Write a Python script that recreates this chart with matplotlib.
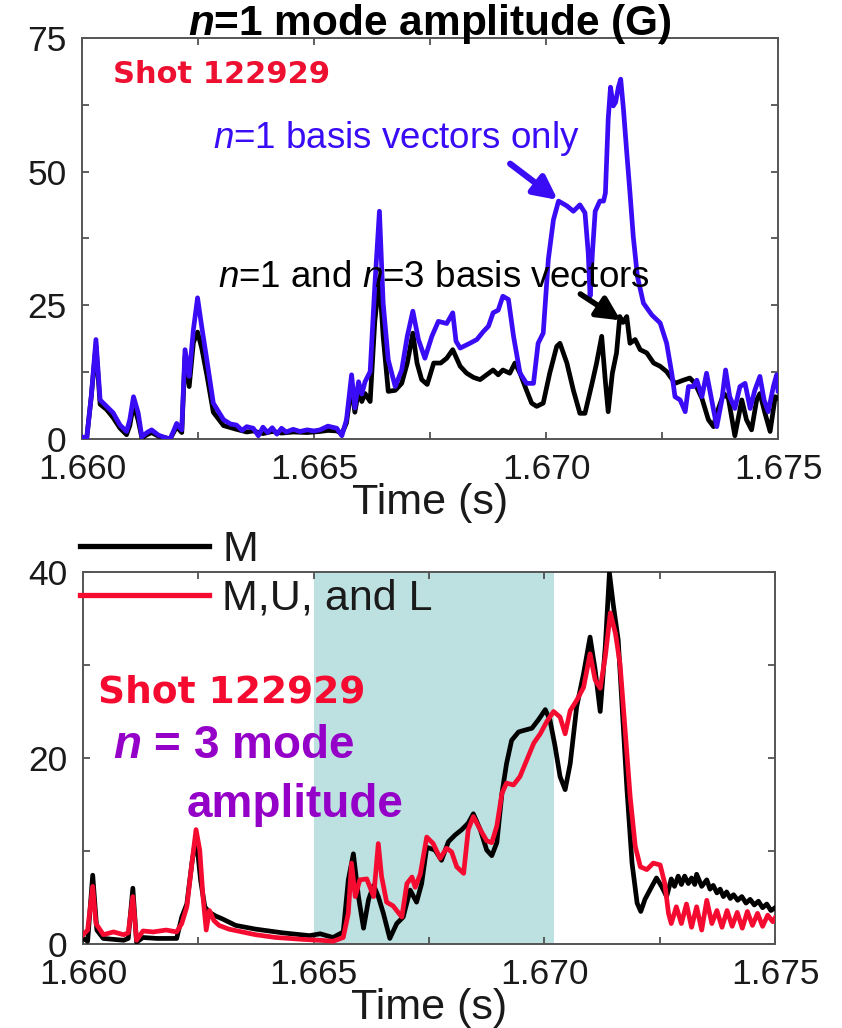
import numpy as np
import matplotlib
matplotlib.use("Agg")
import matplotlib.pyplot as plt
from matplotlib.lines import Line2D

plt.rcParams["font.family"] = ["Liberation Sans", "DejaVu Sans"]
plt.rcParams["mathtext.fontset"] = "custom"
plt.rcParams["mathtext.rm"] = "Liberation Sans"
plt.rcParams["mathtext.it"] = "Liberation Sans:italic"
plt.rcParams["mathtext.bf"] = "Liberation Sans:bold"
plt.rcParams["mathtext.bfit"] = "Liberation Sans:italic:bold"

# ---- n=1 mode amplitude (top), times in ms after 1.660 s ----
n1_only_ms = [0.00, 0.10, 0.20, 0.30, 0.39, 0.53, 0.67, 0.82, 0.96, 1.03, 1.11, 1.21, 1.29, 1.40,
              1.50, 1.65, 1.78, 1.90, 2.04, 2.15, 2.22, 2.31, 2.40, 2.49, 2.58, 2.69, 2.83, 3.05,
              3.20, 3.33, 3.45, 3.55, 3.69, 3.80, 3.90, 4.00, 4.10, 4.20, 4.30, 4.40, 4.55, 4.70,
              4.85, 5.00, 5.13, 5.30, 5.49, 5.60, 5.70, 5.81, 5.88, 5.96, 6.03, 6.10, 6.21, 6.31,
              6.41, 6.49, 6.60, 6.75, 6.89, 7.01, 7.13, 7.25, 7.39, 7.54, 7.68, 7.86, 7.99, 8.06,
              8.15, 8.36, 8.51, 8.65, 8.76, 8.86, 8.97, 9.07, 9.19, 9.30, 9.44, 9.58, 9.73, 9.83,
              9.94, 10.05, 10.16, 10.27, 10.45, 10.59, 10.73, 10.84, 10.91, 10.95, 11.00, 11.06,
              11.16, 11.24, 11.28, 11.34, 11.39, 11.45, 11.50, 11.56, 11.61, 11.67, 11.74, 11.81,
              11.88, 11.97, 12.10, 12.28, 12.46, 12.60, 12.71, 12.78, 12.89, 13.00, 13.07, 13.18,
              13.25, 13.36, 13.46, 13.57, 13.68, 13.79, 13.87, 13.96, 14.07, 14.18, 14.29, 14.40,
              14.50, 14.61, 14.70, 14.79, 14.90, 14.97, 15.00]
n1_only_G = [0.4, 0.0, 8.0, 18.6, 7.3, 6.1, 4.9, 2.6, 1.4, 3.6, 7.9, 4.9, 0.4, 1.2,
             1.7, 0.7, 0.3, 0.0, 2.9, 1.7, 16.7, 11.7, 20.4, 26.4, 21.0, 14.8, 6.7, 3.6,
             2.8, 2.6, 1.6, 2.3, 2.0, 0.6, 2.2, 1.2, 2.1, 0.9, 2.0, 1.3, 1.8, 1.4,
             1.7, 1.5, 1.7, 2.4, 2.0, 0.6, 3.6, 12.0, 5.8, 10.7, 8.4, 10.7, 12.6, 28.6,
             42.6, 25.4, 14.8, 9.8, 12.9, 19.2, 23.9, 18.6, 15.1, 19.2, 22.0, 21.6, 23.6, 18.3,
             17.0, 17.9, 18.6, 20.1, 21.1, 23.6, 24.1, 26.7, 26.1, 19.2, 12.3, 10.4, 10.4, 17.9,
             19.8, 33.6, 41.0, 44.5, 43.6, 42.6, 43.8, 42.3, 34.8, 26.7, 34.8, 42.6,
             44.5, 44.5, 46.0, 59.8, 65.8, 62.3, 63.0, 65.8, 67.3, 61.6, 53.6, 46.0,
             37.9, 30.4, 25.4, 23.2, 21.7, 17.9, 12.3, 7.9, 7.3, 5.1, 9.8, 9.8,
             11.0, 7.9, 12.3, 7.3, 2.3, 7.3, 12.9, 7.9, 5.7, 9.8, 10.4, 5.7,
             9.1, 11.7, 7.3, 5.1, 9.8, 12.0, 9.0]

n1n3_ms = [0.00, 0.10, 0.20, 0.30, 0.39, 0.53, 0.67, 0.82, 0.96, 1.03, 1.11, 1.21, 1.29, 1.40,
           1.50, 1.65, 1.90, 2.04, 2.15, 2.22, 2.31, 2.40, 2.49, 2.58, 2.69, 2.83, 3.05, 3.33,
           3.55, 3.69, 3.90, 4.10, 4.30, 4.55, 4.85, 5.13, 5.30, 5.49, 5.60, 5.70, 5.81, 5.88,
           5.96, 6.03, 6.10, 6.21, 6.31, 6.41, 6.49, 6.60, 6.75, 6.89, 7.01, 7.13, 7.22, 7.32,
           7.44, 7.58, 7.73, 7.86, 7.99, 8.15, 8.29, 8.44, 8.58, 8.72, 8.86, 8.97, 9.07, 9.22,
           9.33, 9.44, 9.58, 9.69, 9.80, 9.94, 10.08, 10.23, 10.30, 10.45, 10.59, 10.73, 10.84,
           11.00, 11.09, 11.20, 11.28, 11.34, 11.43, 11.52, 11.59, 11.66, 11.74, 11.81, 11.92,
           12.03, 12.17, 12.32, 12.46, 12.60, 12.78, 12.96, 13.10, 13.21, 13.36, 13.50, 13.61,
           13.68, 13.83, 13.93, 14.07, 14.22, 14.32, 14.43, 14.54, 14.61, 14.72, 14.83, 14.94,
           15.00]
n1n3_G = [0.3, 0.0, 8.0, 17.5, 6.5, 5.5, 4.0, 2.0, 0.8, 2.5, 6.5, 3.5, 0.2, 0.8,
          1.2, 0.5, 0.0, 2.3, 1.2, 15.5, 9.8, 18.0, 20.0, 17.0, 12.0, 5.0, 2.5, 1.8,
          1.3, 1.5, 1.0, 1.4, 1.1, 1.3, 1.2, 1.4, 1.6, 1.5, 1.0, 3.0, 10.0, 5.0,
          9.0, 7.0, 8.5, 7.0, 22.0, 30.0, 19.2, 8.9, 9.1, 10.4, 14.2, 19.8, 14.2, 11.1,
          10.2, 14.2, 14.2, 15.1, 16.7, 13.6, 12.3, 11.5, 11.1, 12.0, 12.9, 12.0, 12.9, 12.3,
          14.2, 12.3, 9.1, 6.7, 6.1, 6.7, 12.3, 17.3, 17.9, 14.2, 9.1, 4.8, 4.8,
          10.7, 14.2, 19.2, 10.7, 5.1, 12.3, 16.1, 22.9, 21.8, 22.9, 17.9, 18.6,
          16.7, 16.1, 14.2, 13.6, 12.6, 10.4, 11.0, 11.4, 10.4, 7.6, 3.6, 2.3,
          4.8, 8.5, 7.6, 0.6, 7.3, 3.6, 1.7, 7.3, 8.5, 4.8, 1.4, 7.9,
          7.6]

# ---- n=3 mode amplitude (bottom) ----
mul_ms = [0.00, 0.10, 0.21, 0.28, 0.44, 0.66, 0.88, 0.98, 1.08, 1.16, 1.30, 1.52, 1.80, 2.03,
          2.14, 2.25, 2.36, 2.45, 2.53, 2.60, 2.67, 2.74, 2.84, 2.95, 3.16, 3.45, 3.74, 4.18,
          4.76, 5.14, 5.42, 5.64, 5.75, 5.82, 5.90, 6.00, 6.15, 6.30, 6.40, 6.47, 6.58, 6.72,
          6.91, 7.02, 7.13, 7.20, 7.31, 7.45, 7.59, 7.74, 7.88, 7.99, 8.10, 8.25, 8.35, 8.46,
          8.61, 8.75, 8.86, 8.97, 9.08, 9.18, 9.33, 9.47, 9.62, 9.77, 9.91, 10.05, 10.20, 10.34,
          10.45, 10.56, 10.70, 10.85, 10.99, 11.10, 11.21, 11.32, 11.43, 11.54, 11.64, 11.75,
          11.86, 11.97, 12.08, 12.22, 12.36, 12.51, 12.61, 12.69, 12.75, 12.86, 12.97, 13.08,
          13.19, 13.30, 13.41, 13.52, 13.63, 13.74, 13.85, 13.96, 14.07, 14.18, 14.29, 14.40,
          14.51, 14.62, 14.73, 14.84, 14.95, 15.00]
mul_G = [1.0, 1.5, 6.2, 2.2, 1.0, 1.3, 1.0, 1.2, 5.1, 0.4, 1.4, 1.3, 1.5, 1.3,
         2.2, 4.0, 8.7, 12.3, 10.1, 5.1, 1.5, 3.6, 2.5, 2.0, 1.6, 1.3, 1.0, 0.7,
         0.5, 0.4, 0.3, 0.7, 3.3, 8.7, 5.1, 6.9, 7.0, 5.1, 10.8, 7.3, 4.5, 4.1,
         2.9, 6.5, 7.2, 6.1, 7.5, 11.5, 10.8, 9.2, 10.3, 9.9, 8.3, 7.6, 12.3, 13.7,
         12.3, 11.1, 10.9, 12.7, 16.2, 17.3, 17.1, 18.0, 19.8, 21.6, 22.6, 23.9, 25.0, 24.4,
         22.6, 25.1, 26.2, 27.6, 31.2, 28.4, 27.5, 30.9, 35.6, 33.4, 30.1, 23.0,
         15.8, 10.5, 8.3, 8.0, 8.7, 8.5, 6.5, 3.3, 2.2, 4.0, 2.2, 4.3,
         1.8, 4.0, 1.5, 4.7, 2.2, 3.6, 1.8, 3.6, 1.9, 3.4, 1.7, 3.5,
         2.0, 3.3, 1.9, 3.1, 2.4, 2.8]

m_ms = [0.00, 0.10, 0.21, 0.30, 0.44, 0.66, 0.88, 0.98, 1.08, 1.16, 1.30, 1.60, 2.03, 2.14,
        2.25, 2.36, 2.45, 2.55, 2.64, 2.74, 2.88, 3.02, 3.31, 3.74, 4.33, 4.91, 5.14, 5.42,
        5.64, 5.75, 5.86, 5.97, 6.08, 6.19, 6.30, 6.40, 6.51, 6.65, 6.80, 6.94, 7.09, 7.23,
        7.34, 7.45, 7.63, 7.77, 7.92, 8.06, 8.21, 8.35, 8.46, 8.61, 8.75, 8.86, 8.97, 9.08,
        9.18, 9.29, 9.44, 9.58, 9.73, 9.87, 10.02, 10.12, 10.23, 10.34, 10.45, 10.56, 10.70,
        10.85, 10.99, 11.10, 11.21, 11.32, 11.41, 11.49, 11.60, 11.67, 11.79, 11.90, 12.01,
        12.09, 12.18, 12.33, 12.43, 12.54, 12.65, 12.75, 12.82, 12.90, 12.97, 13.04, 13.12,
        13.19, 13.26, 13.30, 13.41, 13.52, 13.59, 13.66, 13.74, 13.81, 13.88, 13.95, 14.03,
        14.10, 14.19, 14.28, 14.37, 14.46, 14.55, 14.64, 14.73, 14.82, 14.91, 15.00]
m_G = [0.6, 0.3, 7.4, 1.5, 0.6, 0.5, 0.4, 0.6, 6.0, 0.2, 0.7, 0.6, 0.6, 2.9,
       4.3, 8.7, 11.6, 6.8, 4.0, 3.4, 3.0, 2.7, 2.0, 1.6, 1.2, 0.9, 1.1, 0.7,
       1.3, 6.9, 9.7, 5.1, 1.7, 4.8, 6.3, 5.1, 3.3, 0.6, 2.2, 2.9, 5.8, 4.5,
       6.5, 10.4, 10.1, 9.0, 11.0, 11.7, 12.3, 13.0, 14.0, 12.3, 10.1, 9.5, 10.9, 16.2,
       19.4, 21.9, 22.8, 23.0, 23.2, 24.1, 25.2, 24.1, 21.3, 18.0, 16.6, 19.4, 25.5,
       29.1, 33.0, 29.5, 25.0, 32.0, 39.9, 36.6, 32.7, 26.8, 16.6, 8.7, 4.4,
       3.5, 4.8, 6.2, 7.1, 6.2, 5.1, 7.0, 6.2, 7.3, 6.4, 7.3, 6.5,
       7.1, 6.4, 7.5, 6.2, 6.9, 5.9, 6.3, 5.5, 5.9, 5.1, 5.6, 4.9,
       5.3, 4.7, 5.1, 4.4, 4.8, 4.2, 4.6, 3.9, 4.3, 3.6, 3.9]

shade_span = (1.665, 1.6702)

def to_s(ms):
    return 1.660 + np.array(ms) / 1000.0

fig = plt.figure(figsize=(8.42, 10.28), dpi=100)
ax1 = fig.add_axes([0.0974, 0.573, 0.8266, 0.390])
ax2 = fig.add_axes([0.0986, 0.0817, 0.8219, 0.3619])

for ax in (ax1, ax2):
    for s in ax.spines.values():
        s.set_color("#555555")
        s.set_linewidth(1.4)
    ax.tick_params(direction="in", top=True, right=True, length=5, width=1.2,
                   color="#444444", labelsize=25.5, labelcolor="#1a1a1a")
    ax.tick_params(axis="x", pad=10)
    ax.tick_params(axis="y", pad=11)
    ax.set_xlim(1.660, 1.675)
    ax.set_xticks(np.arange(1.660, 1.67501, 0.0025))
    ax.set_xticklabels(["1.660", "", "1.665", "", "1.670", "", "1.675"])
    ax.set_xlabel("Time (s)", fontsize=31, color="#1a1a1a", labelpad=-2)

# top panel
ax1.plot(to_s(n1n3_ms), n1n3_G, color="black", lw=3.4, zorder=3)
ax1.plot(to_s(n1_only_ms), n1_only_G, color="#3a0cf5", lw=3.4, zorder=4)
ax1.set_ylim(0, 75)
ax1.set_yticks(np.arange(0, 75.1, 12.5))
ax1.set_yticklabels(["0", "", "25", "", "50", "", "75"])
ax1.text(0.5, 1.008, r"$\mathbfit{n}$=1 mode amplitude (G)", transform=ax1.transAxes,
         ha="center", va="baseline", fontsize=30.5, fontweight="bold")
ax1.text(0.0445, 0.888, "Shot 122929", transform=ax1.transAxes, va="baseline",
         fontsize=22, fontweight="bold", color="#ee1030", family="DejaVu Sans")
ax1.text(0.188, 0.7257, r"$\mathit{n}$=1 basis vectors only", transform=ax1.transAxes,
         va="baseline", fontsize=26.5, color="#3a0cf5", zorder=6)
ax1.text(0.195, 0.379, r"$\mathit{n}$=1 and $\mathit{n}$=3 basis vectors", transform=ax1.transAxes,
         va="baseline", fontsize=26.5, color="black", zorder=6)
ax1.annotate("", xy=(1.6703, 44.4), xytext=(1.66918, 51.8),
             arrowprops=dict(arrowstyle="-|>,head_length=0.7,head_width=0.35",
                             lw=4.5, color="#3a0cf5", mutation_scale=20), zorder=7)
ax1.annotate("", xy=(1.67166, 21.9), xytext=(1.67069, 27.4),
             arrowprops=dict(arrowstyle="-|>,head_length=0.7,head_width=0.35",
                             lw=4.0, color="black", mutation_scale=20), zorder=7)

# bottom panel
ax2.axvspan(*shade_span, color="#bde0e1", lw=0, zorder=0)
ax2.plot(to_s(m_ms), m_G, color="black", lw=3.4, zorder=3)
ax2.plot(to_s(mul_ms), mul_G, color="#f50a30", lw=3.4, zorder=4)
ax2.set_ylim(0, 40)
ax2.set_yticks([0, 10, 20, 30, 40])
ax2.set_yticklabels(["0", "", "20", "", "40"])
handles = [Line2D([], [], color="black", lw=3.8), Line2D([], [], color="#f50a30", lw=3.8)]
leg = ax2.legend(handles, ["M", "M,U, and L"], loc="upper left", bbox_to_anchor=(-0.004, 1.112),
                 frameon=False, fontsize=31, handlelength=3.0, handletextpad=0.3,
                 labelspacing=0.2, borderpad=0, borderaxespad=0)
for t in leg.get_texts():
    t.set_color("#1a1a1a")
ax2.text(0.0217, 0.6505, "Shot 122929", transform=ax2.transAxes, va="baseline",
         fontsize=27, fontweight="bold", color="#f50a30", family="DejaVu Sans")
ax2.text(0.0434, 0.50, r"$\mathbfit{n}$ = 3 mode", transform=ax2.transAxes, va="baseline",
         fontsize=33, fontweight="bold", color="#9400c8")
ax2.text(0.150, 0.341, "amplitude", transform=ax2.transAxes, va="baseline",
         fontsize=33, fontweight="bold", color="#9400c8")

fig.savefig("out.png", dpi=100)
